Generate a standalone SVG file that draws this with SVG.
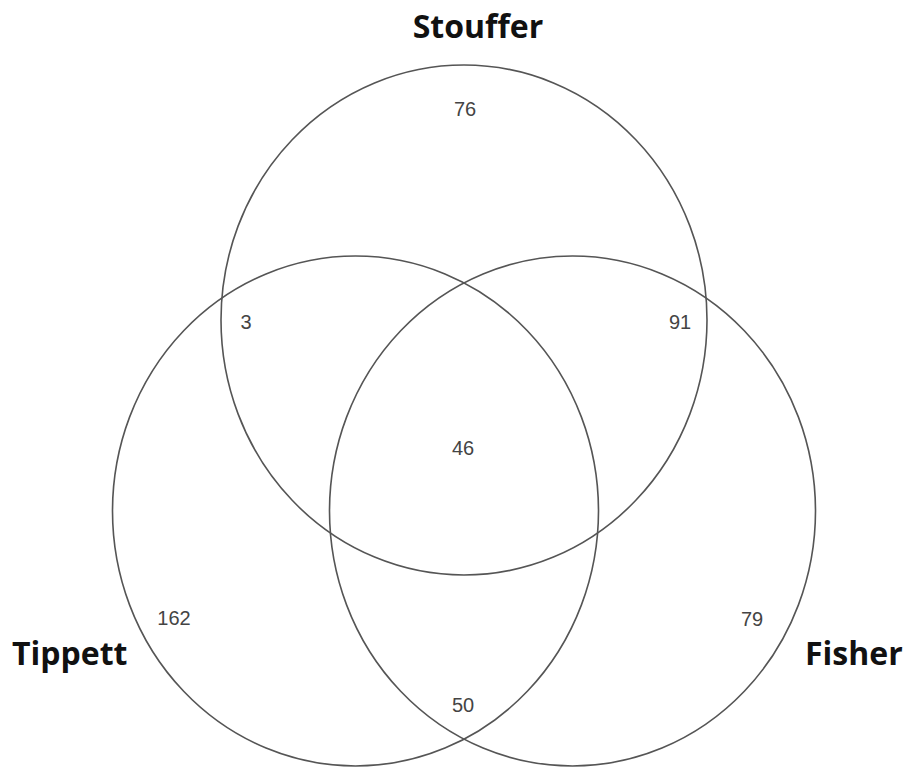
<svg xmlns="http://www.w3.org/2000/svg" width="904" height="768" viewBox="0 0 904 768">
<style>
.set{fill:none;stroke:#555;stroke-width:1.6}
.lbl{font-family:"Open Sans","Noto Sans","Liberation Sans",sans-serif;font-weight:bold;font-size:32px;fill:#111}
.num{font-family:"Liberation Sans",Arial,sans-serif;font-size:20px;fill:#444;text-anchor:middle}
</style>
<rect width="904" height="768" fill="#fff"/>
<g id="stouffer">
<ellipse class="set" cx="464" cy="320" rx="243" ry="255"/>
<text class="lbl" x="478" y="38" text-anchor="middle">Stouffer</text>
</g>
<g id="tippett">
<ellipse class="set" cx="355.5" cy="511" rx="243" ry="255"/>
<text class="lbl" x="12" y="665">Tippett</text>
</g>
<g id="fisher">
<ellipse class="set" cx="572.5" cy="511" rx="243" ry="255"/>
<text class="lbl" x="805" y="665">Fisher</text>
</g>
<g id="counts">
<text class="num" x="465" y="116">76</text>
<text class="num" x="246" y="329">3</text>
<text class="num" x="680" y="329">91</text>
<text class="num" x="463" y="455">46</text>
<text class="num" x="174" y="625">162</text>
<text class="num" x="752" y="626">79</text>
<text class="num" x="463" y="712">50</text>
</g>
<g id="connectors"></g>
</svg>
